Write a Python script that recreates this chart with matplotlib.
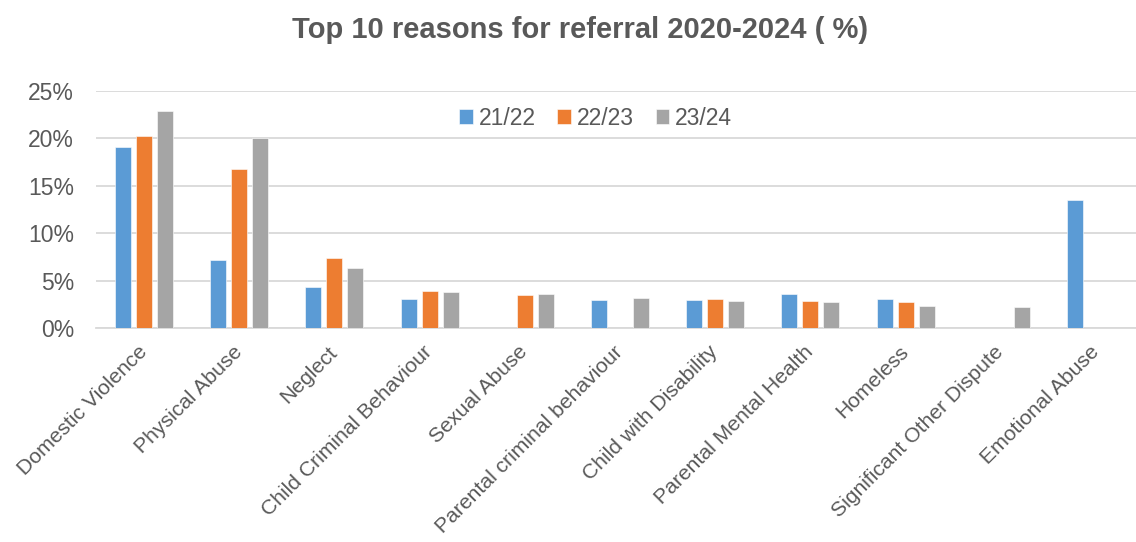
import matplotlib
matplotlib.use("Agg")
import matplotlib.pyplot as plt
import numpy as np
from matplotlib.ticker import FuncFormatter

plt.rcParams['font.family'] = ['Liberation Sans', 'DejaVu Sans']

categories = [
    "Domestic Violence", "Physical Abuse", "Neglect", "Child Criminal Behaviour",
    "Sexual Abuse", "Parental criminal behaviour", "Child with Disability",
    "Parental Mental Health", "Homeless", "Significant Other Dispute",
    "Emotional Abuse",
]
series_names = ["21/22", "22/23", "23/24"]
y2122 = [19.1, 7.2, 4.4, 3.1, 0.0, 3.0, 3.0, 3.6, 3.1, 0.0, 13.5]
y2223 = [20.3, 16.8, 7.4, 3.9, 3.5, 0.0, 3.1, 2.9, 2.8, 0.0, 0.0]
y2324 = [22.9, 20.0, 6.4, 3.8, 3.6, 3.2, 2.85, 2.8, 2.4, 2.2, 0.0]
colors = ["#5B9BD5", "#ED7D31", "#A5A5A5"]

text_color = "#595959"
grid_color = "#D9D9D9"

fig = plt.figure(figsize=(11.36, 5.42), dpi=100)
ax = fig.add_axes([0.0849, 0.3943, 0.9218, 0.4378])

x = np.arange(len(categories))
width = 0.168
offsets = [-0.22, 0.0, 0.22]
for vals, off, col, name in zip([y2122, y2223, y2324], offsets, colors, series_names):
    ax.bar(x + off, vals, width, color=col, label=name, zorder=3,
           edgecolor="white", linewidth=0.4)

ax.set_xlim(-0.5, len(categories) - 0.5)
ax.set_ylim(0, 25)
ax.set_yticks(np.arange(0, 26, 5))
ax.yaxis.set_major_formatter(FuncFormatter(lambda v, p: f"{v:.0f}%"))
ax.grid(axis="y", color=grid_color, linewidth=1.3, zorder=0)
for s in ["top", "right", "left"]:
    ax.spines[s].set_visible(False)
ax.spines["bottom"].set_color(grid_color)
ax.spines["bottom"].set_linewidth(1.3)
ax.tick_params(axis="y", length=0, labelsize=16.5, colors=text_color, pad=16)
ax.tick_params(axis="x", length=0, colors=text_color, pad=15)
ax.set_xticks(x)
ax.set_xticklabels(categories, rotation=45, ha="right", va="center",
                   rotation_mode="anchor", fontsize=15.2, color=text_color)

leg = ax.legend(loc="center", bbox_to_anchor=(0.4767, 0.886), ncol=3, frameon=False,
                fontsize=16.5, handlelength=0.6, handleheight=0.6, handletextpad=0.25,
                columnspacing=0.95)
for t in leg.get_texts():
    t.set_color(text_color)

fig.text(0.511, 0.945, "Top 10 reasons for referral 2020-2024 ( %)", ha="center", va="center",
         fontsize=21, fontweight="bold", color=text_color)

fig.savefig("out.png", dpi=100, facecolor="white")
